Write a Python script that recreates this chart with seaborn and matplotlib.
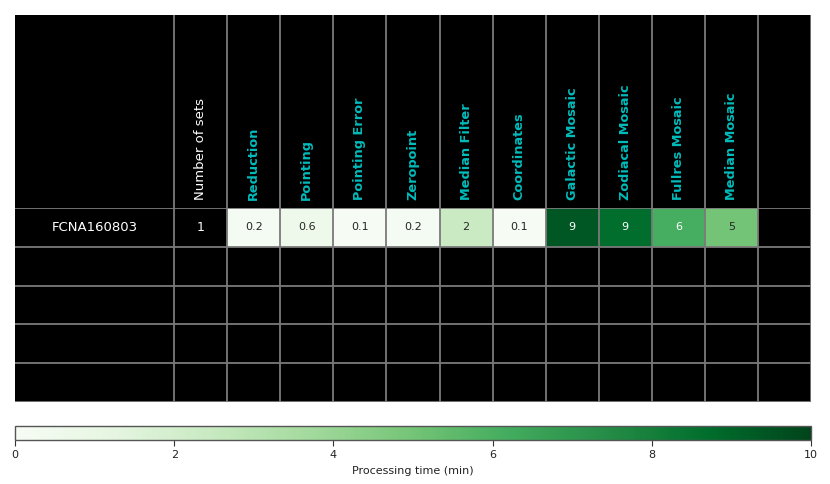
import matplotlib
matplotlib.use("Agg")
import matplotlib.pyplot as plt
import seaborn as sns
import numpy as np
import pandas as pd

# data
run_names = ["FCNA160803"]
n_sets = [1]
stages = [
    "Reduction",
    "Pointing",
    "Pointing Error",
    "Zeropoint",
    "Median Filter",
    "Coordinates",
    "Galactic Mosaic",
    "Zodiacal Mosaic",
    "Fullres Mosaic",
    "Median Mosaic",
]
times = [[0.2, 0.6, 0.1, 0.2, 2.4, 0.1, 9.4, 8.7, 6.1, 5.0]]
n_rows = 5

grid_color = "#7a7a7a"
label_w = 3  # name column is three cells wide
cols = ["name0", "name1", "name2", "Number of sets"] + stages + ["blank"]
n_cols = len(cols)

# grid of processing times, NaN where the cell stays black
grid = np.full((n_rows, n_cols), np.nan)
annot = np.full((n_rows, n_cols), "", dtype=object)
for r, row in enumerate(times):
    for j, v in enumerate(row):
        grid[r, label_w + 1 + j] = v
        annot[r, label_w + 1 + j] = f"{v:.1f}" if v < 1 else f"{v:.0f}"
df = pd.DataFrame(grid, columns=cols)

W, H = 830, 484
fig = plt.figure(figsize=(W / 100, H / 100), dpi=100)
ax_head = fig.add_axes([15 / W, 1 - 208 / H, 796 / W, 193 / H])
ax = fig.add_axes([15 / W, 1 - 402 / H, 796 / W, 194 / H])
cax = fig.add_axes([15 / W, 1 - 440 / H, 796 / W, 14 / H])

ax.set_facecolor("black")
sns.heatmap(
    df,
    ax=ax,
    cmap="Greens",
    vmin=0,
    vmax=10,
    mask=df.isna(),
    annot=annot,
    fmt="",
    annot_kws={"fontsize": 8},
    linewidths=0,
    xticklabels=False,
    yticklabels=False,
    cbar_ax=cax,
    cbar_kws={"orientation": "horizontal"},
)
ax.set_xlabel("")
ax.set_ylabel("")

# row texts outside the coloured cells
for r, name in enumerate(run_names):
    ax.text(label_w / 2, r + 0.5, name, color="white", fontsize=9.5,
            ha="center", va="center")
    ax.text(label_w + 0.5, r + 0.5, str(n_sets[r]), color="white", fontsize=9,
            ha="center", va="center")

# grid lines
vlines = list(range(label_w, n_cols + 1))
for x in vlines:
    ax.axvline(x, color=grid_color, lw=1.3)
for y in range(0, n_rows + 1):
    ax.axhline(y, color=grid_color, lw=1.3)
for s in ax.spines.values():
    s.set_visible(False)

# header
ax_head.set_facecolor("black")
ax_head.set_xlim(0, n_cols)
ax_head.set_ylim(0, 1)
ax_head.set_xticks([])
ax_head.set_yticks([])
for s in ax_head.spines.values():
    s.set_visible(False)
for x in vlines:
    ax_head.axvline(x, color=grid_color, lw=1.3)
ax_head.text(label_w + 0.5, 0.04, "Number of sets", color="white", fontsize=9.5,
             rotation=90, ha="center", va="bottom")
for j, st in enumerate(stages):
    ax_head.text(label_w + 1.5 + j, 0.04, st, color="#00bcbc", fontsize=9.3,
                 fontweight="bold", rotation=90, ha="center", va="bottom")

# colorbar
cbar = ax.collections[0].colorbar
cbar.set_ticks([0, 2, 4, 6, 8, 10])
cbar.ax.tick_params(labelsize=8, length=4, color="#333333", labelcolor="#222222")
cbar.set_label("Processing time (min)", fontsize=8, color="#222222")
cbar.outline.set_edgecolor("#555555")
cbar.outline.set_linewidth(1.0)

fig.savefig("out.png", dpi=100, facecolor="white")
